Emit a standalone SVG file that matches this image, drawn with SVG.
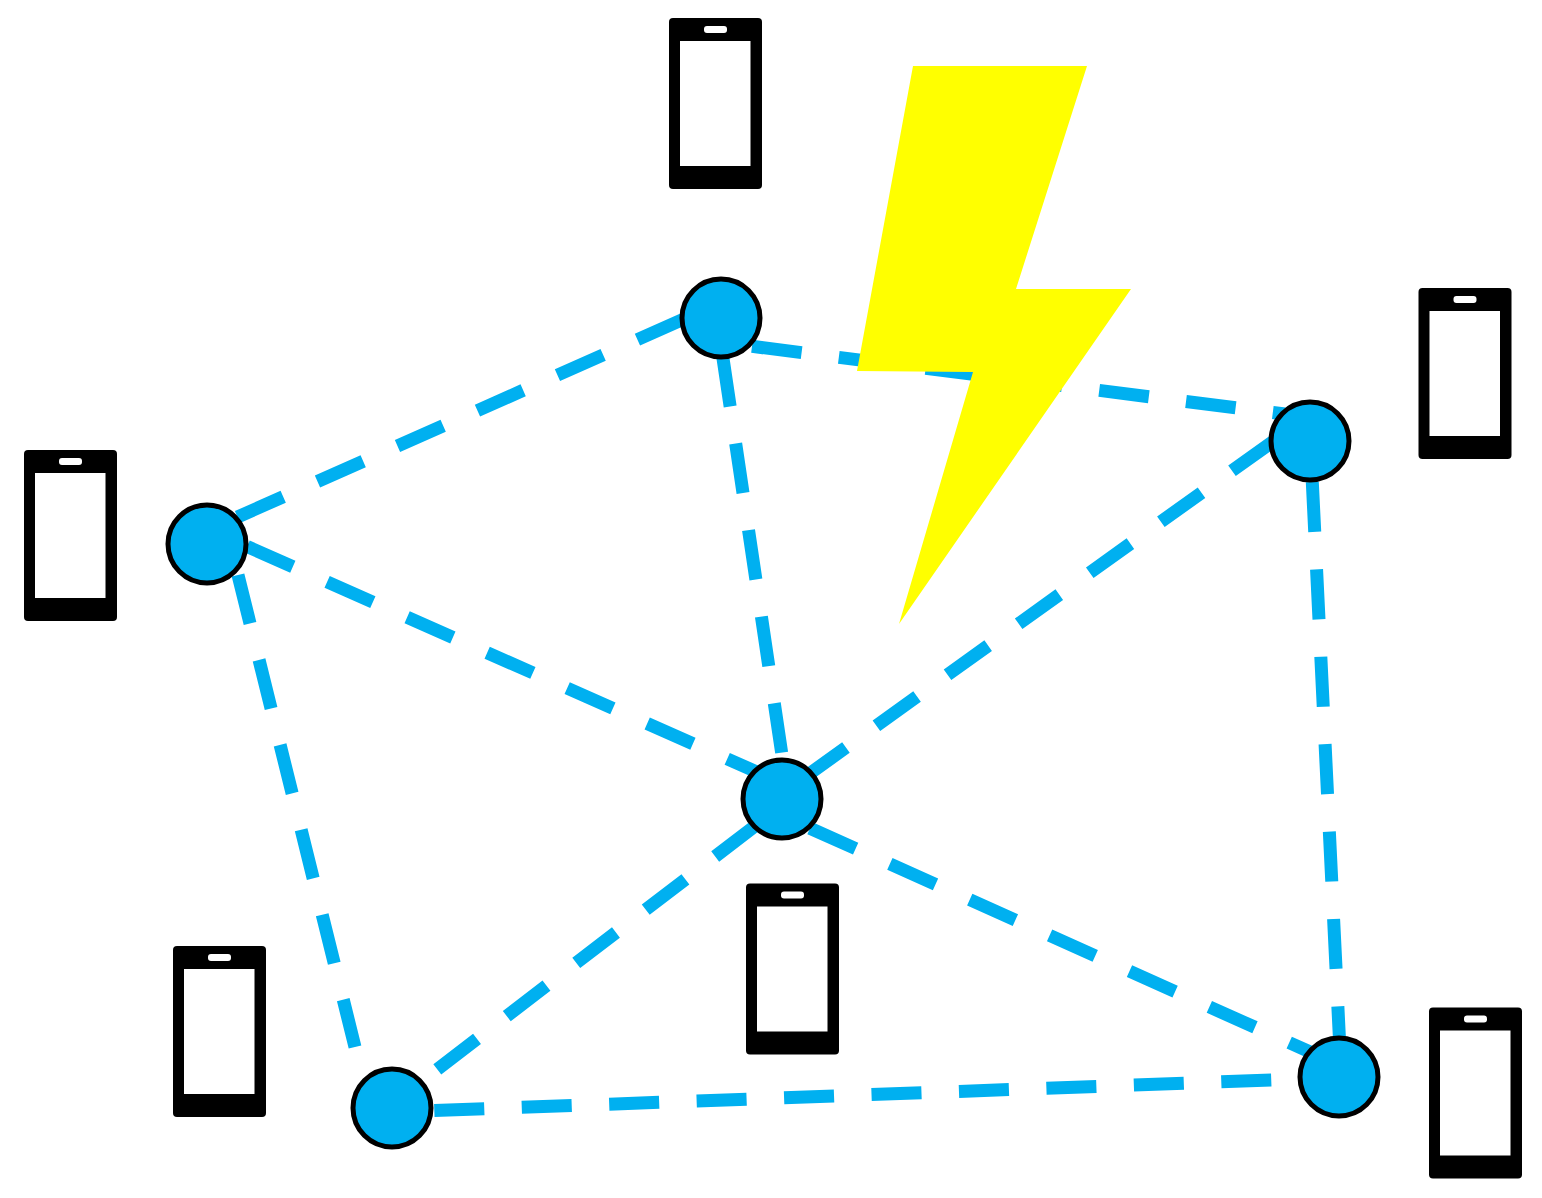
<svg xmlns="http://www.w3.org/2000/svg" width="1542" height="1198" viewBox="0 0 1542 1198">
<style>
.link{stroke:#00B0F0;stroke-width:13;stroke-dasharray:50 37.5;fill:none}
.node{fill:#00B0F0;stroke:#000;stroke-width:5}
.body{fill:#000}
.hole{fill:#fff}
</style>
<defs>
<g id="phone">
<rect class="body" x="0" y="0" width="93" height="171" rx="4"/>
<rect class="hole" x="11" y="23" width="70.5" height="125"/>
<rect class="hole" x="35" y="8" width="23" height="7" rx="3"/>
</g>
</defs>
<rect width="1542" height="1198" fill="#fff"/>
<g id="connectors">
<line class="link" x1="237.5" y1="517" x2="683" y2="319.4"/>
<line class="link" x1="752" y1="346.3" x2="1285" y2="414"/>
<line class="link" x1="722.8" y1="357" x2="781.7" y2="753"/>
<line class="link" x1="247.1" y1="546.5" x2="760" y2="773.4"/>
<line class="link" x1="238" y1="575" x2="355" y2="1047"/>
<line class="link" x1="437.3" y1="1069.3" x2="757" y2="824.5"/>
<line class="link" x1="805.3" y1="776.7" x2="1275" y2="440"/>
<line class="link" x1="1312.3" y1="482" x2="1339.5" y2="1040"/>
<line class="link" x1="810" y1="828.2" x2="1318" y2="1055.5"/>
<line class="link" x1="434.3" y1="1110.5" x2="1300" y2="1079"/>
</g>
<g id="bolt"><polygon fill="#FFFF00" points="913,66 1087,66 1016,289 1131,289 899,624 973,372 857,371"/></g>
<g id="node-1"><circle class="node" cx="721" cy="318" r="39"/></g>
<g id="node-2"><circle class="node" cx="207" cy="544" r="39"/></g>
<g id="node-3"><circle class="node" cx="1310" cy="441" r="39"/></g>
<g id="node-4"><circle class="node" cx="782" cy="799" r="39"/></g>
<g id="node-5"><circle class="node" cx="392" cy="1108" r="39"/></g>
<g id="node-6"><circle class="node" cx="1339" cy="1077" r="39"/></g>
<g id="phone-1"><use href="#phone" x="669" y="18"/></g>
<g id="phone-2"><use href="#phone" x="1418.5" y="288"/></g>
<g id="phone-3"><use href="#phone" x="24" y="450"/></g>
<g id="phone-4"><use href="#phone" x="746" y="883.5"/></g>
<g id="phone-5"><use href="#phone" x="173" y="946"/></g>
<g id="phone-6"><use href="#phone" x="1429" y="1007.5"/></g>
</svg>
